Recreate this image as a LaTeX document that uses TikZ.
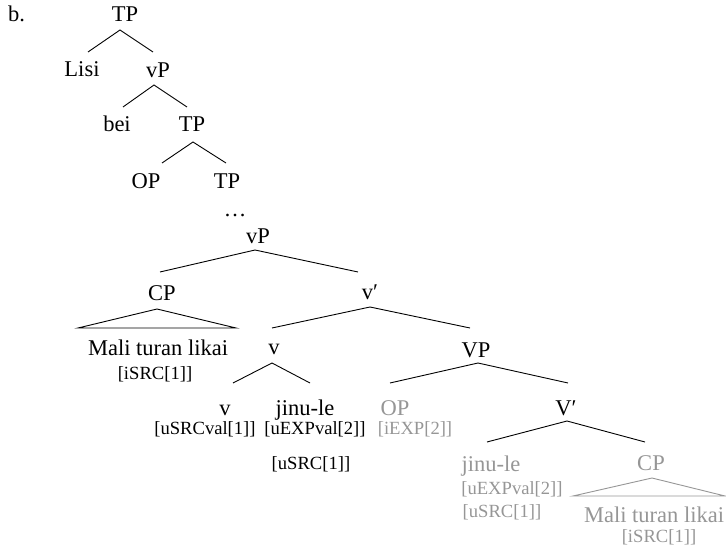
\documentclass[tikz,border=0pt]{standalone}
\usepackage{fontspec}
\setmainfont{Liberation Serif}
\usetikzlibrary{calc}
\definecolor{greytext}{RGB}{150,150,150}
\tikzset{
  lab/.style={font=\fontsize{22.5}{26}\selectfont, inner sep=0pt, anchor=base},
  feat/.style={font=\fontsize{18.6}{21}\selectfont, inner sep=0pt, anchor=base},
  faded/.style={text=greytext},
  branch/.style={draw=black, line width=0.9pt},
  fadedbranch/.style={draw=greytext, line width=0.9pt},
}
\begin{document}
\begin{tikzpicture}[x=1pt,y=-1pt]
\useasboundingbox (0,0) rectangle (726,553);
% labels
\node[lab, anchor=base west] (ex) at (8,22) {b.};
\node[lab] (TPa) at (125,22) {TP};
\node[lab] (Lisi) at (82,77) {Lisi};
\node[lab] (vPa) at (158,78) {vP};
\node[lab] (bei) at (117,132) {bei};
\node[lab] (TPb) at (192,132) {TP};
\node[lab] (OPa) at (146,189) {OP};
\node[lab] (TPc) at (227,189) {TP};
\node[lab] (dots) at (235,217) {…};
\node[lab] (vPb) at (258,244) {vP};
\node[lab] (CPa) at (162,301) {CP};
\node[lab] (MTLa) at (158,356) {Mali turan likai};
\node[feat] (iSRCa) at (155,380) {[iSRC[1]]};
\node[lab] (vbar) at (370,300) {v′};
\node[lab] (va) at (274,355) {v};
\node[lab] (VP) at (476,358) {VP};
\node[lab] (vb) at (225,415) {v};
\node[feat] (uSRCval) at (205,435) {[uSRCval[1]]};
\node[lab] (jinua) at (305,415) {jinu-le};
\node[feat] (uEXPa) at (315,435) {[uEXPval[2]]};
\node[feat] (uSRCa) at (311,469) {[uSRC[1]]};
\node[lab, faded] (OPb) at (395,415) {OP};
\node[feat, faded] (iEXP) at (415,435) {[iEXP[2]]};
\node[lab] (Vbar) at (566,415) {V′};
\node[lab, faded] (jinub) at (491,471) {jinu-le};
\node[feat, faded] (uEXPb) at (512,494) {[uEXPval[2]]};
\node[feat, faded] (uSRCb) at (502,517) {[uSRC[1]]};
\node[lab, faded] (CPb) at (651,470) {CP};
\node[lab, faded] (MTLb) at (654,522) {Mali turan likai};
\node[feat, faded] (iSRCb) at (659,542) {[iSRC[1]]};
% branches
\draw[branch] ($(Lisi.base)+(6,-25)$) -- ($(TPa.base)+(-5,8)$) -- ($(vPa.base)+(-5,-26)$);
\draw[branch] ($(bei.base)+(6,-25)$) -- ($(vPa.base)+(-4,7)$) -- ($(TPb.base)+(-5,-25)$);
\draw[branch] ($(OPa.base)+(16,-26)$) -- ($(TPb.base)+(1,10)$) -- ($(TPc.base)+(-1,-26)$);
\draw[branch] ($(CPa.base)+(-2,-29)$) -- ($(vPb.base)+(-3,6)$) -- ($(vbar.base)+(-12,-28)$);
\draw[branch] ($(MTLa.base)+(-80,-28)$) -- ($(CPa.base)+(-5,8)$) -- ($(MTLa.base)+(78,-28)$) -- cycle;
\draw[branch] ($(va.base)+(-2,-27)$) -- ($(vbar.base)+(0,7)$) -- ($(VP.base)+(-6,-30)$);
\draw[branch] ($(vb.base)+(8,-32)$) -- ($(va.base)+(-2,8)$) -- ($(jinua.base)+(5,-32)$);
\draw[branch] ($(OPb.base)+(-5,-32)$) -- ($(VP.base)+(2,5)$) -- ($(Vbar.base)+(2,-32)$);
\draw[branch] ($(jinub.base)+(-4,-29)$) -- ($(Vbar.base)+(1,6)$) -- ($(CPb.base)+(-6,-28)$);
\draw[fadedbranch] ($(MTLb.base)+(-81,-26)$) -- ($(CPb.base)+(1,8)$) -- ($(MTLb.base)+(71,-26)$) -- cycle;
\end{tikzpicture}
\end{document}
